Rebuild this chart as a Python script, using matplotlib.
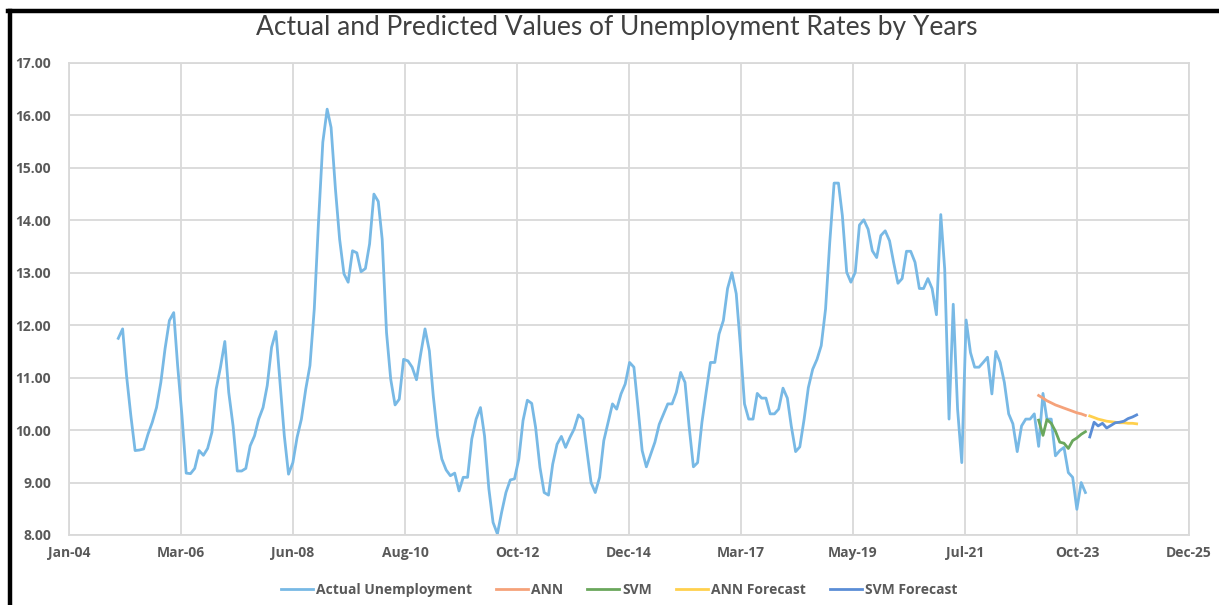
import matplotlib
matplotlib.use("Agg")
import matplotlib.dates as mdates
import matplotlib.pyplot as plt
import numpy as np
import pandas as pd
from matplotlib.lines import Line2D

# monthly actual unemployment, Jan 2005 .. Dec 2023
actual = [
    11.75, 11.93, 11.04, 10.27, 9.61, 9.62, 9.64, 9.92, 10.15, 10.43, 10.91, 11.55,
    12.09, 12.24, 11.23, 10.27, 9.18, 9.17, 9.27, 9.61, 9.52, 9.65, 9.96, 10.78,
    11.20, 11.69, 10.72, 10.08, 9.22, 9.22, 9.27, 9.70, 9.89, 10.21, 10.43, 10.85,
    11.58, 11.88, 10.91, 9.89, 9.16, 9.38, 9.86, 10.21, 10.78, 11.23, 12.31, 13.96,
    15.49, 16.12, 15.77, 14.60, 13.64, 12.98, 12.82, 13.42, 13.38, 13.02, 13.08, 13.55,
    14.50, 14.36, 13.64, 11.86, 10.97, 10.48, 10.59, 11.35, 11.32, 11.20, 10.96, 11.45,
    11.93, 11.51, 10.65, 9.89, 9.45, 9.24, 9.13, 9.18, 8.84, 9.10, 9.10, 9.83,
    10.21, 10.43, 9.89, 8.88, 8.24, 8.02, 8.43, 8.81, 9.05, 9.07, 9.45, 10.18,
    10.57, 10.51, 10.05, 9.29, 8.81, 8.76, 9.35, 9.73, 9.88, 9.67, 9.86, 10.02,
    10.29, 10.21, 9.64, 9.00, 8.81, 9.10, 9.80, 10.15, 10.50, 10.40, 10.69, 10.88,
    11.29, 11.20, 10.46, 9.61, 9.30, 9.54, 9.77, 10.11, 10.31, 10.50, 10.50, 10.72,
    11.10, 10.91, 10.08, 9.30, 9.38, 10.15, 10.72, 11.29, 11.29, 11.83, 12.09, 12.70,
    13.00, 12.60, 11.67, 10.50, 10.21, 10.21, 10.70, 10.61, 10.61, 10.31, 10.31, 10.40,
    10.80, 10.61, 10.08, 9.59, 9.68, 10.21, 10.81, 11.16, 11.35, 11.61, 12.31, 13.58,
    14.71, 14.71, 14.09, 13.01, 12.82, 13.01, 13.91, 14.01, 13.83, 13.42, 13.29, 13.71,
    13.80, 13.61, 13.20, 12.80, 12.89, 13.41, 13.41, 13.20, 12.70, 12.70, 12.89, 12.70,
    12.20, 14.11, 13.07, 10.21, 12.40, 10.40, 9.38, 12.10, 11.48, 11.20, 11.20, 11.29,
    11.39, 10.69, 11.50, 11.29, 10.91, 10.31, 10.12, 9.59, 10.08, 10.21, 10.21, 10.31,
    9.69, 10.70, 10.21, 10.21, 9.51, 9.61, 9.67, 9.19, 9.10, 8.49, 9.00, 8.81,
]
# model fits for 2023
ann = [10.66, 10.61, 10.56, 10.52, 10.48, 10.45, 10.42, 10.39, 10.36, 10.33, 10.31, 10.28]
svm = [10.19, 9.90, 10.20, 10.13, 9.98, 9.77, 9.75, 9.65, 9.80, 9.85, 9.92, 9.97]
# forecasts for 2024
ann_forecast = [10.27, 10.24, 10.21, 10.19, 10.17, 10.16, 10.15, 10.14, 10.14, 10.13, 10.13, 10.12]
svm_forecast = [9.87, 10.15, 10.08, 10.13, 10.04, 10.09, 10.14, 10.15, 10.17, 10.22, 10.25, 10.29]

series_names = ["Actual Unemployment", "ANN", "SVM", "ANN Forecast", "SVM Forecast"]
colors = ["#78B9E5", "#F5A27A", "#6AA75C", "#FFD04D", "#5B8DD6"]

actual_dates = pd.date_range("2005-01-01", periods=len(actual), freq="MS")
fit_dates = pd.date_range("2023-01-01", periods=len(ann), freq="MS")
fc_dates = pd.date_range("2024-01-01", periods=len(ann_forecast), freq="MS")

plt.rcParams["font.family"] = ["Open Sans", "DejaVu Sans"]

fig = plt.figure(figsize=(12.19, 6.05), dpi=100)
ax = fig.add_axes([69 / 1219, 1 - 535 / 605, 1120 / 1219, 472 / 605])

ax.plot(actual_dates, actual, color=colors[0], lw=2.0)
ax.plot(fit_dates, ann, color=colors[1], lw=2.0)
ax.plot(fit_dates, svm, color=colors[2], lw=2.0)
ax.plot(fc_dates, ann_forecast, color=colors[3], lw=2.0)
ax.plot(fc_dates, svm_forecast, color=colors[4], lw=2.0)

# excel style date axis: 800 day major unit
x0 = mdates.date2num(pd.Timestamp("2004-01-15"))
ax.set_xlim(x0, x0 + 8000)
ax.set_xticks(x0 + 800 * np.arange(11))
ax.xaxis.set_major_formatter(mdates.DateFormatter("%b-%y"))
ax.set_ylim(8, 17)
ax.set_yticks(np.arange(8, 18, 1))
ax.yaxis.set_major_formatter(matplotlib.ticker.FormatStrFormatter("%.2f"))

ax.grid(True, color="#D9D9D9", lw=1.3)
ax.set_axisbelow(True)
for sp in ax.spines.values():
    sp.set_color("#D9D9D9")
    sp.set_linewidth(1.3)
ax.tick_params(length=0, labelsize=10, labelcolor="#595959")
for lbl in ax.get_xticklabels() + ax.get_yticklabels():
    lbl.set_fontweight("bold")
ax.tick_params(axis="y", pad=13)
ax.tick_params(axis="x", pad=8)

fig.text(0.506, 0.954, "Actual and Predicted Values of Unemployment Rates by Years",
         ha="center", va="center", fontsize=19, color="#404040",
         family=["Lato", "DejaVu Sans"])

handles = [Line2D([], [], color=c, lw=2.0) for c in colors]
leg = fig.legend(handles, series_names, loc="center", bbox_to_anchor=(0.508, 0.025),
                 ncol=5, frameon=False, handlelength=2.3, handletextpad=0.2,
                 columnspacing=1.75, prop={"weight": "bold", "size": 10})
for t in leg.get_texts():
    t.set_color("#595959")

# screenshot frame
fig.add_artist(Line2D([9.5 / 1219, 9.5 / 1219], [0, 1 - 11 / 605], color="black", lw=3.2))
fig.add_artist(Line2D([8 / 1219, 1], [1 - 11 / 605, 1 - 11 / 605], color="black", lw=3.2))

fig.savefig("out.png", dpi=100)
